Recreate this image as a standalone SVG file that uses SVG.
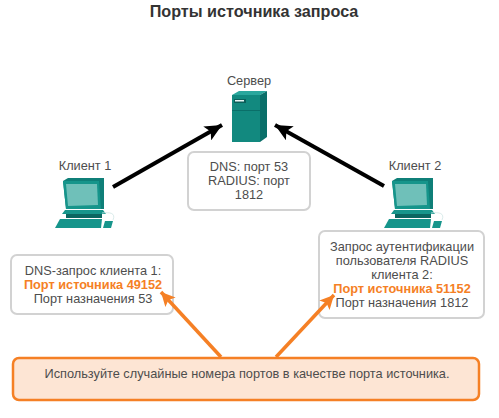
<svg xmlns="http://www.w3.org/2000/svg" width="499" height="418" viewBox="0 0 499 418">
<style>
text{font-family:"Liberation Sans",Arial,sans-serif;font-size:12.75px;fill:#4d4d4d;text-anchor:middle}
.t{font-size:16.2px;font-weight:bold;fill:#333}
.o{font-weight:bold;fill:#f58025}
.box{fill:#fff;stroke:#d2d2d2;stroke-width:2}
.blk{stroke:#000;stroke-width:4;fill:none;marker-end:url(#ab)}
.org{stroke:#f58025;stroke-width:3.5;fill:none;marker-end:url(#ao)}
</style>
<defs>
<marker id="ab" markerUnits="userSpaceOnUse" markerWidth="20" markerHeight="16" refX="17" refY="8" orient="auto"><path d="M0 0L17 8L0 16L4 8Z" fill="#000"/></marker>
<marker id="ao" markerUnits="userSpaceOnUse" markerWidth="16" markerHeight="14" refX="14" refY="7" orient="auto"><path d="M0 0L14 7L0 14L3 7Z" fill="#f58025"/></marker>
<g id="pc">
<path d="M63 181L68 178H104V209H66Z" fill="#0f7f78"/>
<path d="M63 181H99L101 209H66Z" fill="#16958b"/>
<path d="M66 184H97L98 205L68 206Z" fill="#6fc0b9"/>
<path d="M65 210H103L106 214H62Z" fill="#16958b"/>
<path d="M66 214H102V218H66Z" fill="#0a6660"/>
<path d="M60 219H102L101 228H55Z" fill="#16958b"/>
<path d="M105 221H113L111 228H103Z" fill="#16958b"/>
<path d="M102 213C110 212 116 213 113 220" fill="none" stroke="#cfe6e4" stroke-width="0.8"/>
</g>
</defs>
<text class="t" x="254" y="17">Порты источника запроса</text>
<g id="server">
<text x="249" y="85">Сервер</text>
<path d="M232 95L239 91H267L260 95Z" fill="#2aa79d"/>
<path d="M260 95L267 91V137L260 142Z" fill="#0a6f69"/>
<rect x="232" y="95" width="28" height="47" fill="#12897f"/>
<rect x="232" y="110" width="28" height="1" fill="#0a6f69"/>
<rect x="234" y="99" width="12" height="4" fill="#0a5f5a"/>
<rect x="235" y="100" width="9" height="1.5" fill="#e8f5f4"/>
</g>
<g id="client1">
<text x="85" y="170">Клиент 1</text>
<use href="#pc"/>
</g>
<g id="client2">
<text x="415" y="170">Клиент 2</text>
<use href="#pc" x="329"/>
</g>
<g id="server-info">
<rect class="box" x="188" y="152" width="122" height="58" rx="6"/>
<text x="249" y="171">DNS: порт 53</text>
<text x="249" y="185">RADIUS: порт</text>
<text x="249" y="199">1812</text>
</g>
<g id="client1-info">
<rect class="box" x="11" y="255" width="162" height="59" rx="6"/>
<text x="93" y="275">DNS-запрос клиента 1:</text>
<text class="o" x="93" y="289">Порт источника 49152</text>
<text x="93" y="303">Порт назначения 53</text>
</g>
<g id="client2-info">
<rect class="box" x="319" y="231" width="165" height="87" rx="6"/>
<text x="402" y="251">Запрос аутентификации</text>
<text x="402" y="265">пользователя RADIUS</text>
<text x="402" y="279">клиента 2:</text>
<text class="o" x="402" y="293">Порт источника 51152</text>
<text x="402" y="307">Порт назначения 1812</text>
</g>
<g id="note">
<rect x="13" y="358" width="466" height="42" rx="6" fill="#fde5d4" stroke="#f58025" stroke-width="2.5"/>
<text x="247" y="378">Используйте случайные номера портов в качестве порта источника.</text>
</g>
<g id="connectors">
<path class="blk" d="M113 187L222 125"/>
<path class="blk" d="M384 186L275 125"/>
<path class="org" d="M221 357L161 292"/>
<path class="org" d="M276 357L334 295"/>
</g>
</svg>
